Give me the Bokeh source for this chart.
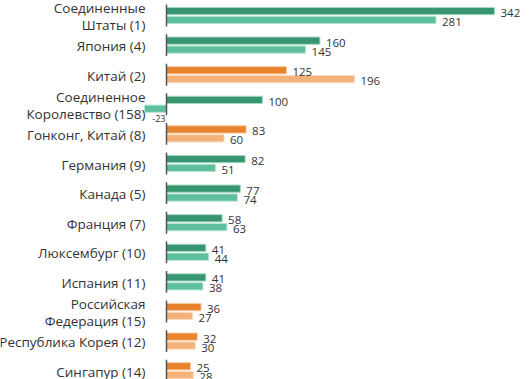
import numpy as np
from bokeh.plotting import figure
from bokeh.models import Range1d, ColumnDataSource
from bokeh.core.properties import value
from bokeh.embed import file_html
from bokeh.resources import INLINE

countries = ["Соединенные\nШтаты (1)", "Япония (4)", "Китай (2)",
             "Соединенное\nКоролевство (158)", "Гонконг, Китай (8)",
             "Германия (9)", "Канада (5)", "Франция (7)", "Люксембург (10)",
             "Испания (11)", "Российская\nФедерация (15)",
             "Республика Корея (12)", "Сингапур (14)"]
values_2014 = [342, 160, 125, 100, 83, 82, 77, 58, 41, 41, 36, 32, 25]
values_2013 = [281, 145, 196, -23, 60, 51, 74, 63, 44, 38, 27, 30, 28]
developing = [False, False, True, False, True, False, False, False, False,
              False, True, True, True]

DARK_GREEN, LIGHT_GREEN = "#379570", "#5dbf9c"
DARK_ORANGE, LIGHT_ORANGE = "#e8822c", "#f4b27a"

W, H = 529, 379
x0_px, scale = 166, 0.959
pitch, top_px = 29.6, 15

n = len(countries)
idx = np.arange(n)
dev = np.array(developing)

p = figure(width=W, height=H, output_backend="svg", toolbar_location=None,
           x_range=Range1d(-x0_px / scale, (W - x0_px) / scale),
           y_range=Range1d((H - top_px) / pitch, -top_px / pitch),
           min_border=0, outline_line_color=None, background_fill_color="white",
           border_fill_color="white")
p.xaxis.visible = False
p.yaxis.visible = False
p.grid.visible = False

off, bh = 0.15, 0.245
v14 = np.array(values_2014)
v13 = np.array(values_2013)

src14 = ColumnDataSource(dict(y=idx - off, right=v14,
                              color=np.where(dev, DARK_ORANGE, DARK_GREEN),
                              lc=np.where(dev, "#f6c69c", "#a9d8c4")))
src13 = ColumnDataSource(dict(y=idx + off, right=v13,
                              color=np.where(dev, LIGHT_ORANGE, LIGHT_GREEN),
                              lc=np.where(dev, "#fbdcc0", "#b9e5d4")))
p.hbar(y="y", left=0, right="right", height=bh, fill_color="color",
       line_color="lc", line_width=1, source=src14)
p.hbar(y="y", left=0, right="right", height=bh, fill_color="color",
       line_color="lc", line_width=1, source=src13)

# zero axis pieces per category
p.segment(x0=0, x1=0, y0=idx - 0.37, y1=idx + 0.37, line_color="#555555",
          line_width=1.5)

# value labels
def label_src(vals, ys):
    vals = np.asarray(vals)
    neg = vals < 0
    return ColumnDataSource(dict(
        x=np.where(neg, 0, vals), y=ys, text=[str(v) for v in vals],
        align=np.where(neg, "right", "left"),
        xo=np.where(neg, -1, 6), yo=np.where(neg, 10, 2),
        fs=np.where(neg, "9px", "11.5px")))

for s in (label_src(v14, idx - off), label_src(v13, idx + off)):
    p.text(x="x", y="y", text="text", text_align="align", x_offset="xo",
           y_offset="yo", text_baseline="middle", text_font=value("Open Sans"),
           text_font_size="fs", text_color="#333333", source=s)

# category labels
p.text(x=0, y=idx, text=countries, x_offset=-21, y_offset=1,
       text_align="right", text_baseline="middle", text_line_height=0.95,
       text_font=value("Open Sans"), text_font_size="13.5px",
       text_color="#333333")

open("out.html", "w").write(file_html(p, INLINE))
